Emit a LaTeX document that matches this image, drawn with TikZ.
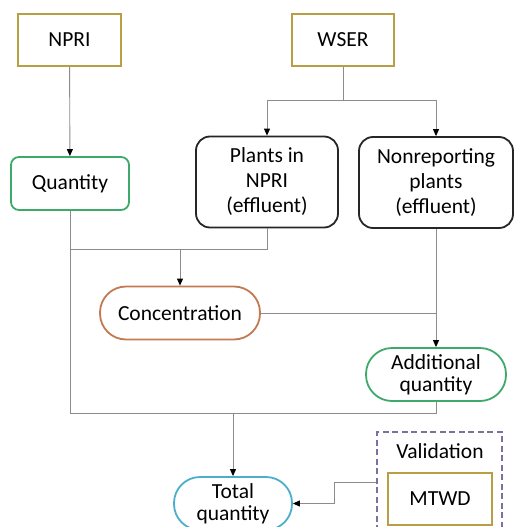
\documentclass[tikz,border=0pt]{standalone}
\usepackage{xcolor}
\usepackage{fontspec}
\setmainfont{Carlito}
\usepackage{tikz}
\usetikzlibrary{arrows.meta,positioning,calc}
\definecolor{SourceGold}{HTML}{B89F45}
\definecolor{QtyGreen}{HTML}{3DAA6C}
\definecolor{ConcBrown}{HTML}{C27A52}
\definecolor{TotalBlue}{HTML}{4BAFCB}
\definecolor{ValPurple}{HTML}{7E6F9C}
\definecolor{LinkGray}{HTML}{8C8C8C}

\begin{document}
\begin{tikzpicture}[
  x=1pt, y=-1pt,
  font=\fontsize{21.5}{26}\selectfont,
  source/.style={draw=SourceGold, line width=1.8pt, minimum width=103pt, minimum height=52pt, align=center, fill=white},
  plantbox/.style={draw=black!85, line width=1.8pt, rounded corners=14pt, minimum height=91pt, align=center, fill=white},
  pill/.style={line width=1.8pt, rounded corners=26pt, minimum height=53pt, align=center, fill=white},
  link/.style={draw=LinkGray, line width=0.9pt},
  arrow/.style={link, -{Triangle[length=7pt,width=6pt,color=black]}}
]
  \useasboundingbox (0,0) rectangle (514,527);

  \node[draw=ValPurple, dash pattern=on 6pt off 3.5pt, line width=1.2pt, minimum width=125pt, minimum height=113pt] (valbox) at (439.5,488.5) {};
  \node (valtitle) at (440,451) {Validation};

  \node[source] (npri) at (69.5,40) {NPRI};
  \node[source, minimum width=102pt] (wser) at (343,40) {WSER};
  \node[draw=QtyGreen, line width=1.8pt, rounded corners=8pt, minimum width=118pt, minimum height=53pt] (quantity) at (70,183.5) {Quantity};
  \node[plantbox, minimum width=142pt] (plants) at (267,182) {Plants in\\[-1pt]NPRI\\[-1pt](effluent)};
  \node[plantbox, minimum width=154pt] (nonrep) at (436,182.5) {Nonreporting\\[-1pt]plants\\[-1pt](effluent)};
  \node[pill, draw=ConcBrown, minimum width=160pt] (conc) at (180,313) {Concentration};
  \node[pill, draw=QtyGreen, minimum width=140pt] (addq) at (436,374.5) {Additional\\[-4pt]quantity};
  \node[pill, draw=TotalBlue, minimum width=118pt] (total) at (233,503.5) {Total\\[-4pt]quantity};
  \node[source, minimum width=104pt] (mtwd) at (440,499) {MTWD};

  \coordinate (split) at (343,100);
  \coordinate (joinA) at (70,249);
  \coordinate (joinB) at (70,413);

  \draw[arrow] (npri) -- (quantity);
  \draw[link] (wser) -- (split);
  \draw[arrow] (split) -| (plants.north);
  \draw[arrow] (split) -| (nonrep.north);
  \draw[link] (quantity.south) -- (joinA) -| (plants.south);
  \draw[arrow] (conc.north |- joinA) -- (conc.north);
  \draw[link] (joinA) -- (joinB) -| (addq.south);
  \draw[arrow] (nonrep) -- (addq);
  \draw[link] (conc.east) -- (conc.east -| addq.north);
  \draw[arrow] (total.north |- joinB) -- (total.north);
  \draw[arrow] (valbox.west |- 0,482) -- ++(-42,0) |- (total.east);
\end{tikzpicture}
\end{document}
